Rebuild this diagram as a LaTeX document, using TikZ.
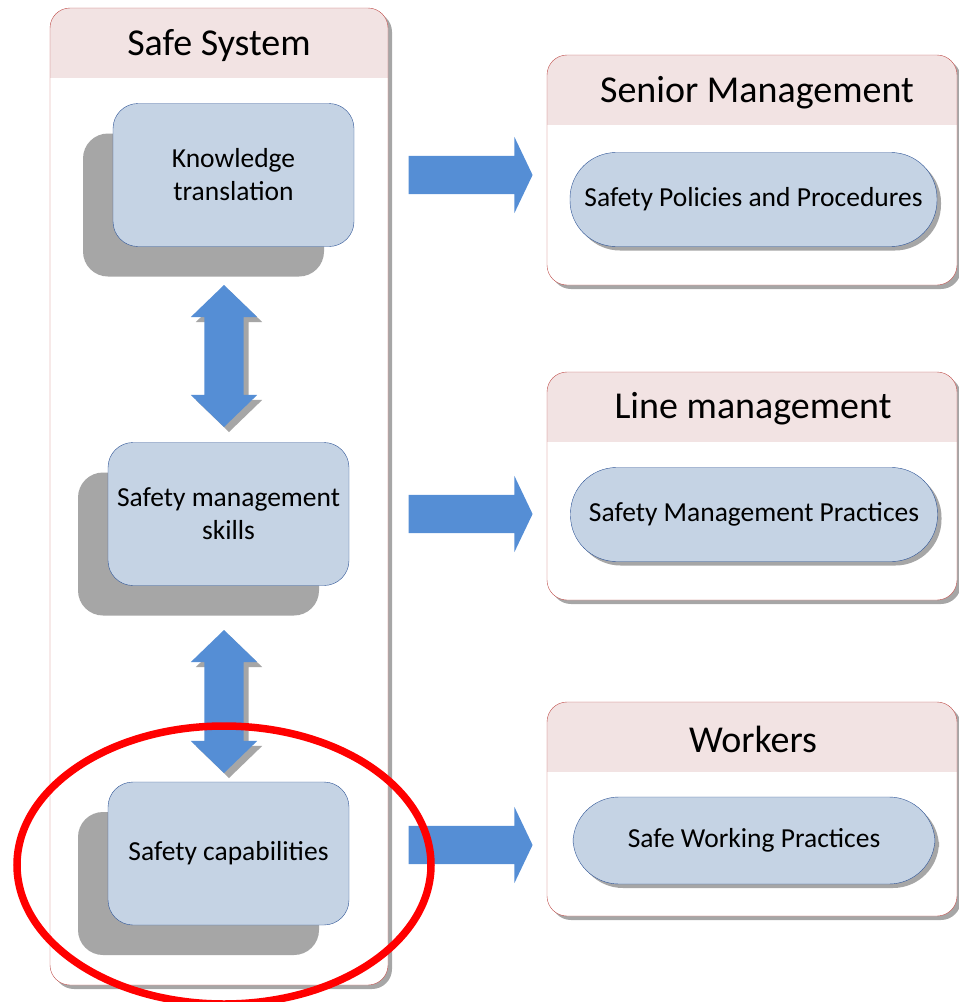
\documentclass[tikz,border=0pt]{standalone}
\usepackage{fontspec}
\setmainfont{Carlito}
\usetikzlibrary{shapes.arrows,shadows}
\definecolor{framered}{HTML}{C0504D}
\definecolor{headpink}{HTML}{F2E3E3}
\definecolor{boxblue}{HTML}{C5D3E4}
\definecolor{boxedge}{HTML}{2F5597}
\definecolor{arrowblue}{HTML}{558ED5}
\definecolor{shade}{HTML}{A6A6A6}
\tikzset{
  frame/.style={draw=framered, fill=white, rounded corners=20pt,
    drop shadow={shadow xshift=4pt, shadow yshift=-4pt, fill=shade, opacity=1},
    path picture={\fill[headpink, sharp corners] (path picture bounding box.north west)
      rectangle ([yshift=-70pt]path picture bounding box.north east);}},
  title/.style={font=\fontsize{38}{44}\selectfont},
  skill/.style={draw=boxedge, fill=boxblue, rounded corners=25pt, align=center,
    minimum width=241pt, minimum height=143pt, font=\fontsize{27.5}{33}\selectfont,
    drop shadow={shadow xshift=-30pt, shadow yshift=-30pt, fill=shade, opacity=1}},
  pill/.style={draw=boxedge, fill=boxblue, rounded corners=46pt,
    minimum width=367pt, minimum height=94pt, font=\fontsize{27.5}{32}\selectfont,
    drop shadow={shadow xshift=4pt, shadow yshift=-4pt, fill=shade, opacity=1}},
  updown/.style={double arrow, fill=arrowblue, rotate=90, inner xsep=0pt,
    inner ysep=19.5pt, double arrow head extend=13.5pt, double arrow tip angle=92,
    drop shadow={shadow xshift=5pt, shadow yshift=-5pt, fill=shade, opacity=1}},
  across/.style={single arrow, fill=arrowblue, inner xsep=0pt, inner ysep=19pt,
    minimum height=124pt, single arrow head extend=19pt, single arrow tip angle=129}
}
\begin{document}
\begin{tikzpicture}[x=1pt,y=-1pt]
  \useasboundingbox (0,0) rectangle (959,1002);
  % left column
  \node[frame, minimum width=338pt, minimum height=977pt] (sys) at (219,496.5) {};
  \node[title] (systitle) at (219,46) {Safe System};
  \foreach \n/\x/\y/\t in {kt/233.5/175/{Knowledge\\translation},
      sms/228.5/514/{Safety management\\skills}, cap/228.5/853.5/{Safety capabilities}}
    \node[skill] (\n) at (\x,\y) {\t};
  \node[updown, minimum height=142pt] (ud1) at (224,356) {};
  \node[updown, minimum height=143pt] (ud2) at (224,701.5) {};
  % right column
  \foreach \n/\y/\h in {sen/170/230, line/486/228, work/809/214}
    \node[frame, minimum width=410pt, minimum height=\h pt] (\n) at (752,\y) {};
  \node[title] (sentitle) at (757,93) {Senior Management};
  \node[title] (linetitle) at (753,409) {Line management};
  \node[title] (worktitle) at (753,739) {Workers};
  \node[pill] (pol) at (753.5,199.5) {Safety Policies and Procedures};
  \node[pill] (prac) at (754,514.5) {Safety Management Practices};
  \node[pill, minimum width=362pt, minimum height=87pt] (safe) at (754,840.5) {Safe Working Practices};
  \foreach \y/\n in {175/ra1, 514/ra2, 845/ra3}
    \node[across] (\n) at (466,\y) {};
  % highlight
  \draw[red, line width=7.5pt] (224,865) ellipse [x radius=207, y radius=139];
\end{tikzpicture}
\end{document}
